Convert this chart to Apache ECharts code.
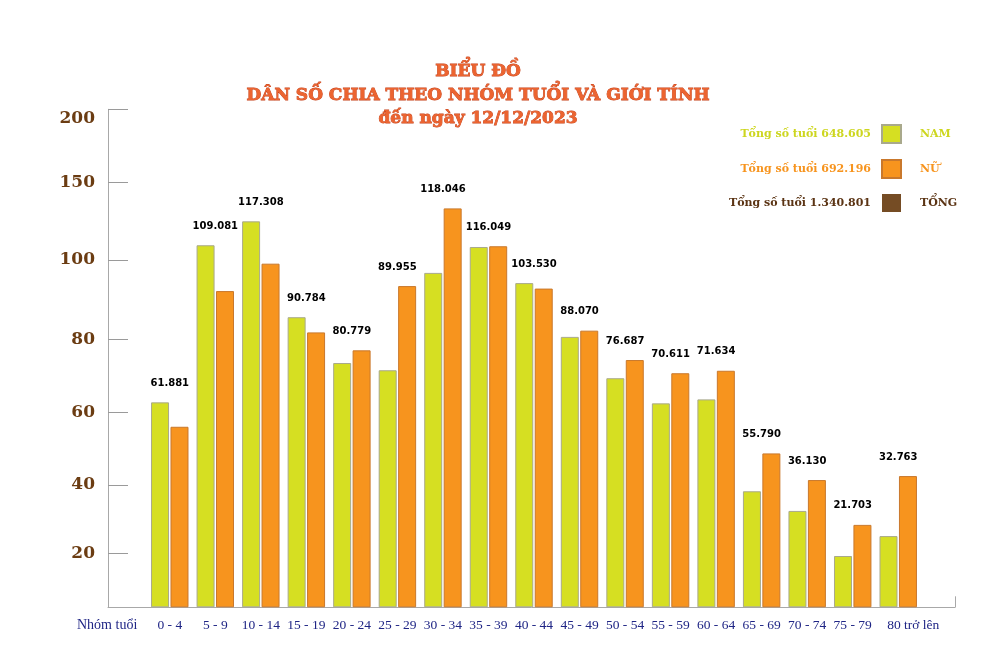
<!DOCTYPE html>
<html>
<head>
<meta charset="utf-8">
<style>html,body{margin:0;padding:0;background:#fff;}#c{width:1000px;height:667px;}</style>
<script src="https://cdn.jsdelivr.net/npm/echarts@6/dist/echarts.min.js"></script>
</head>
<body>
<div id="c"></div>
<script>
// Age groups
const categories = ['0 - 4','5 - 9','10 - 14','15 - 19','20 - 24','25 - 29','30 - 34','35 - 39','40 - 44','45 - 49','50 - 54','55 - 59','60 - 64','65 - 69','70 - 74','75 - 79','80 trở lên'];
// Bar heights as drawn, read on the chart's linear axis (0 at base, 200 at top)
const namValues = [82.3,145.4,155.0,116.5,98.1,95.2,134.3,144.7,130.2,108.6,92.0,81.9,83.5,46.6,38.7,20.6,28.6];
const nuValues  = [72.5,127.0,138.0,110.4,103.2,129.0,160.2,145.0,128.0,111.1,99.3,94.0,95.0,61.8,51.1,33.1,52.7];
// Group totals printed above each pair
const totalLabels = ['61.881','109.081','117.308','90.784','80.779','89.955','118.046','116.049','103.530','88.070','76.687','70.611','71.634','55.790','36.130','21.703','32.763'];
// Y-axis tick labels and where the picture places them on the linear axis
const yTickLabels = ['20','40','60','80','100','150','200'];
const yTickPos    = [21.7,49.1,78.3,107.6,139.5,170.7,200];
// Legend
const seriesNames = ['NAM','NỮ','TỔNG'];
const legendTotals = ['648.605','692.196','1.340.801'];

const C_NAM = '#d6df22', C_NU = '#f7941e', C_TONG = '#754c24';
const legendTextColors = ['#cdd61f','#f7941e','#5b3414'];

const chart = echarts.init(document.getElementById('c'), null, {renderer:'canvas'});
const groupTop = namValues.map((v,i)=>Math.max(v, nuValues[i]));

const xData = categories.map((c,i)=> i===categories.length-1
  ? {value:c, textStyle:{padding:[0,0,0,30]}} : c);

const option = {
  backgroundColor:'#ffffff',
  animation:false,
  title:{
    text:'BIỂU ĐỒ\nDÂN SỐ CHIA THEO NHÓM TUỔI VÀ GIỚI TÍNH\nđến ngày 12/12/2023',
    left:473, top:55, textAlign:'center',
    textStyle:{fontFamily:'DejaVu Serif', fontWeight:'bold', fontSize:17, lineHeight:23.5,
      color:'#ec6430', textBorderColor:'#c5431d', textBorderWidth:0.8}
  },
  legend:{
    orient:'vertical', left:881, top:124, padding:0, itemWidth:19, itemHeight:18, itemGap:15,
    icon:'rect', selectedMode:false,
    textStyle:{fontFamily:'DejaVu Serif', fontWeight:'bold', fontSize:11, padding:[0,0,0,14]},
    data: seriesNames.map((n,i)=>({name:n, textStyle:{color:legendTextColors[i]}}))
  },
  graphic:[
    ...legendTotals.map((t,i)=>({
      type:'text', x:871, y:134.5+i*34.3,
      style:{text:'Tổng số tuổi '+t, fill:legendTextColors[i], font:'bold 11px "DejaVu Serif"',
        textAlign:'right', textVerticalAlign:'middle'}
    })),
    {type:'text', x:77, y:625, style:{text:'Nhóm tuổi', fill:'#1f2585', font:'14px "Liberation Serif"', textVerticalAlign:'middle'}}
  ],
  grid:[
    {left:147, right:79, top:109.3, bottom:59.7},
    {left:108, right:45, top:109.3, bottom:59.7}
  ],
  xAxis:[
    {type:'category', gridIndex:0, data:xData,
      axisLine:{show:false}, axisTick:{show:false},
      axisLabel:{interval:0, margin:11, color:'#1f2585', fontFamily:'Liberation Serif', fontSize:13.5}},
    {type:'value', gridIndex:1, min:0, max:1, interval:1,
      axisLine:{show:true, lineStyle:{color:'#a8a8a8', width:1}},
      axisTick:{show:true, inside:true, length:11, lineStyle:{color:'#a8a8a8'}},
      axisLabel:{show:false}, splitLine:{show:false}}
  ],
  yAxis:[
    {type:'value', gridIndex:0, min:0, max:200, show:false, splitLine:{show:false}},
    {type:'value', gridIndex:1, min:0, max:200,
      axisLine:{show:true, lineStyle:{color:'#a8a8a8', width:1}},
      axisTick:{show:true, inside:true, length:20, customValues:yTickPos, lineStyle:{color:'#9a9a9a'}},
      axisLabel:{show:true, customValues:yTickPos, margin:13,
        formatter:(v)=>{const k=yTickPos.indexOf(v); if(k<0) return ''; return k===yTickPos.length-1 ? '{t|'+yTickLabels[k]+'}' : yTickLabels[k];},
        rich:{t:{padding:[18,0,0,0], color:'#6b3c12', fontFamily:'DejaVu Serif', fontWeight:'bold', fontSize:17}},
        color:'#6b3c12', fontFamily:'DejaVu Serif', fontWeight:'bold', fontSize:17},
      splitLine:{show:false}}
  ],
  series:[
    {name:'NAM', type:'bar', xAxisIndex:0, yAxisIndex:0, data:namValues, barWidth:18, barGap:'8%',
      itemStyle:{color:C_NAM, borderColor:'#a9a98c', borderWidth:1}},
    {name:'NỮ', type:'bar', xAxisIndex:0, yAxisIndex:0, data:nuValues, barWidth:18,
      itemStyle:{color:C_NU, borderColor:'#c9782c', borderWidth:1}},
    {name:'TỔNG', type:'scatter', xAxisIndex:0, yAxisIndex:0, data:groupTop, symbolSize:0,
      itemStyle:{color:C_TONG, opacity:1},
      label:{show:true, position:'top', distance:14,
        formatter:(p)=>totalLabels[p.dataIndex],
        color:'#000', fontFamily:'DejaVu Sans', fontWeight:'bold', fontSize:10}}
  ]
};
chart.setOption(option);
</script>
</body>
</html>
